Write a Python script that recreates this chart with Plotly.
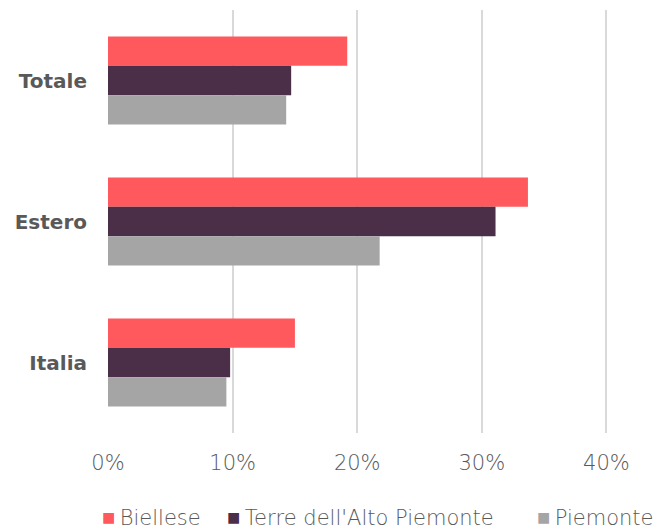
import plotly.graph_objects as go

categories = ["Totale", "Estero", "Italia"]
biellese = [0.192, 0.337, 0.150]
terre = [0.147, 0.311, 0.098]
piemonte = [0.143, 0.218, 0.095]

series = [
    ("Biellese", biellese, "#FF585D"),
    ("Terre dell'Alto Piemonte", terre, "#4B2F48"),
    ("Piemonte", piemonte, "#A5A5A5"),
]

fig = go.Figure()
for name, vals, col in series:
    fig.add_trace(go.Bar(
        y=categories, x=vals, name=name, orientation="h",
        marker=dict(color=col, line=dict(width=0)),
    ))

light = dict(family="DejaVu Sans, sans-serif", size=21, color="#595959", weight=200)

# legend as text entries (plotly's own legend is too wide here and wraps)
legend_x = [-0.0144, 0.2104, 0.768]
for (name, vals, col), lx in zip(series, legend_x):
    fig.add_annotation(
        xref="paper", yref="paper", x=lx, y=-0.1986,
        xanchor="left", yanchor="middle", showarrow=False,
        text=(f"<span style='color:{col};font-size:22px'>■</span>"
              f"<span style='font-size:14px'> </span>{name}"),
        font=light,
    )

# page body has an 8px margin, so the figure is a bit smaller than the window
fig.update_layout(
    width=656, height=522,
    margin=dict(l=100, r=0, t=2, b=97, autoexpand=False),
    paper_bgcolor="white", plot_bgcolor="white",
    barmode="group", bargap=0.376, bargroupgap=0,
    font=dict(family="DejaVu Sans, sans-serif", color="#595959", size=21),
    showlegend=False,
)
fig.update_xaxes(
    range=[0, 0.4462], tickformat=".0%", dtick=0.1,
    showgrid=True, gridcolor="#D9D9D9", gridwidth=1.5,
    zeroline=False, showline=False, ticks="", automargin=False,
    tickfont=light, ticklabelstandoff=15,
)
fig.update_yaxes(
    range=[2.5, -0.5], showgrid=False, showline=False, ticks="", automargin=False,
    tickfont=dict(size=20, color="#595959", family="DejaVu Sans, sans-serif", weight="bold"),
    ticklabelstandoff=20,
)

fig.write_html("out.html")
